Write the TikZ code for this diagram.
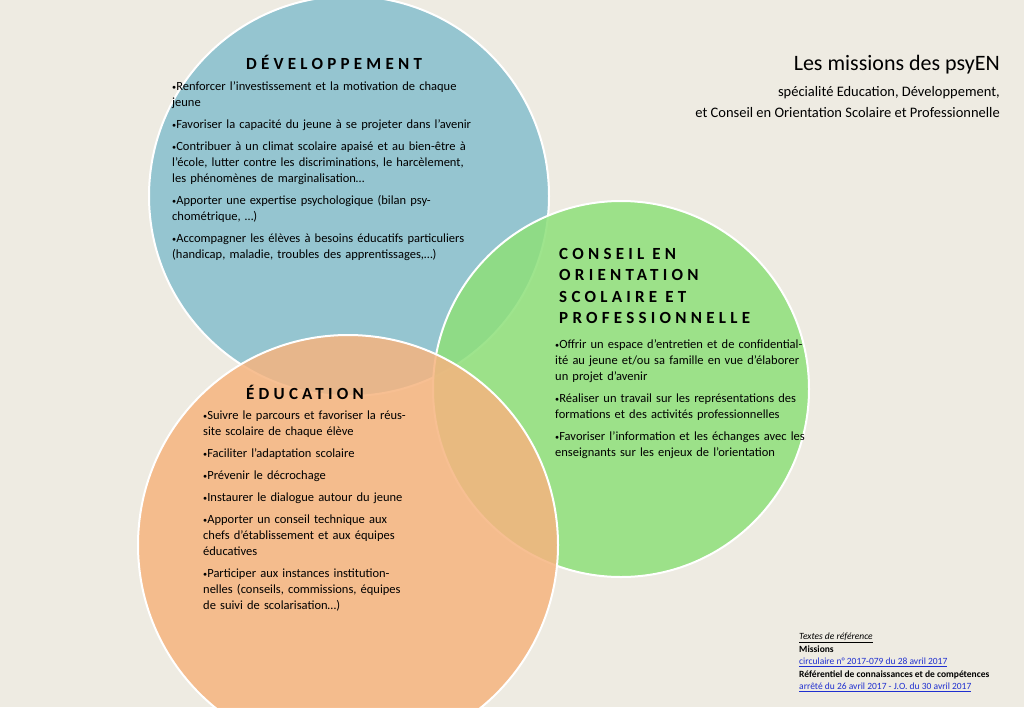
\documentclass[tikz,border=0pt]{standalone}
\usepackage{fontspec}
\setmainfont{Carlito}
\definecolor{bgpaper}{HTML}{EEEBE2}
\definecolor{devblue}{HTML}{86BFCD}
\definecolor{eduorange}{HTML}{F6B47F}
\definecolor{congreen}{HTML}{8EE07A}
\definecolor{linkblue}{HTML}{1F2FD0}
\newcommand{\bul}{{\scriptsize\raisebox{1pt}{$\bullet$}}}
\tikzset{
  missionbox/.style={anchor=north west, align=left, inner sep=0pt,
    font=\fontsize{12.5}{16}\selectfont},
  headtitle/.style={font=\fontsize{17}{21}\selectfont\bfseries\addfontfeatures{LetterSpace=25}, inner sep=0pt},
  venn/.style={draw=white, line width=2pt, fill opacity=0.85}
}
\begin{document}
\begin{tikzpicture}[x=1pt,y=-1pt]
  \fill[bgpaper] (0,0) rectangle (1024,707);
  \useasboundingbox (0,0) rectangle (1024,707);

  % circles
  \fill[devblue, venn] (349,196) circle (200);
  \fill[congreen, venn] (621,389) circle (188);
  \fill[eduorange, venn] (348,545) circle (210);

  % headings
  \node[headtitle] (devtitle) at (334,62) {DÉVELOPPEMENT};
  \node[headtitle] (edutitle) at (305,392) {ÉDUCATION};
  \node[headtitle, anchor=north west, align=left,
    font=\fontsize{17}{21.5}\selectfont\bfseries\addfontfeatures{LetterSpace=25}]
    (contitle) at (559,248) {CONSEIL EN\\ORIENTATION\\SCOLAIRE ET\\PROFESSIONNELLE};

  \node[missionbox, text width=300pt] (devlist) at (172,81) {%
    \setlength{\parskip}{6pt}%
    \bul Renforcer l’investissement et la motivation de chaque jeune\par
    \bul Favoriser la capacité du jeune à se projeter dans l’avenir\par
    \bul Contribuer à un climat scolaire apaisé et au bien-être à l’école, lutter contre les discriminations, le harcèlement, les phénomènes de marginalisation…\par
    \bul Apporter une expertise psychologique (bilan psychométrique, …)\par
    \bul Accompagner les élèves à besoins éducatifs particuliers (handicap, maladie, troubles des apprentissages,…)};

  \node[missionbox, text width=210pt] (edulist) at (203,411) {%
    \setlength{\parskip}{6pt}%
    \bul Suivre le parcours et favoriser la réussite scolaire de chaque élève\par
    \bul Faciliter l’adaptation scolaire\par
    \bul Prévenir le décrochage\par
    \bul Instaurer le dialogue autour du jeune\par
    \bul Apporter un conseil technique aux chefs d’établissement et aux équipes éducatives\par
    \bul Participer aux instances institutionnelles (conseils, commissions, équipes de suivi de scolarisation…)};

  \node[missionbox, text width=250pt] (conlist) at (555,339) {%
    \setlength{\parskip}{6pt}%
    \bul Offrir un espace d’entretien et de confidentialité au jeune et/ou sa famille en vue d’élaborer un projet d’avenir\par
    \bul Réaliser un travail sur les représentations des formations et des activités professionnelles\par
    \bul Favoriser l’information et les échanges avec les enseignants sur les enjeux de l’orientation};

  % title
  \node[anchor=north east, align=right, inner sep=0pt, font=\fontsize{22}{26}\selectfont]
    (maintitle) at (1000,55) {Les missions des psyEN};
  \node[anchor=north east, align=right, inner sep=0pt, font=\fontsize{14.5}{21}\selectfont]
    (subtitle) at (1000,86) {spécialité Education, Développement,\\
      et Conseil en Orientation Scolaire et Professionnelle};

  % references
  \node[anchor=north west, align=left, inner sep=0pt,
    font=\fontsize{9.5}{12.5}\selectfont] (reflist) at (799,633)
    {\textit{\underline{Textes de référence}}\\
     \textbf{Missions}\\
     \textcolor{linkblue}{\underline{circulaire n° 2017-079 du 28 avril 2017}}\\
     \textbf{Référentiel de connaissances et de compétences}\\
     \textcolor{linkblue}{\underline{arrêté du 26 avril 2017 - J.O. du 30 avril 2017}}};
\end{tikzpicture}
\end{document}
